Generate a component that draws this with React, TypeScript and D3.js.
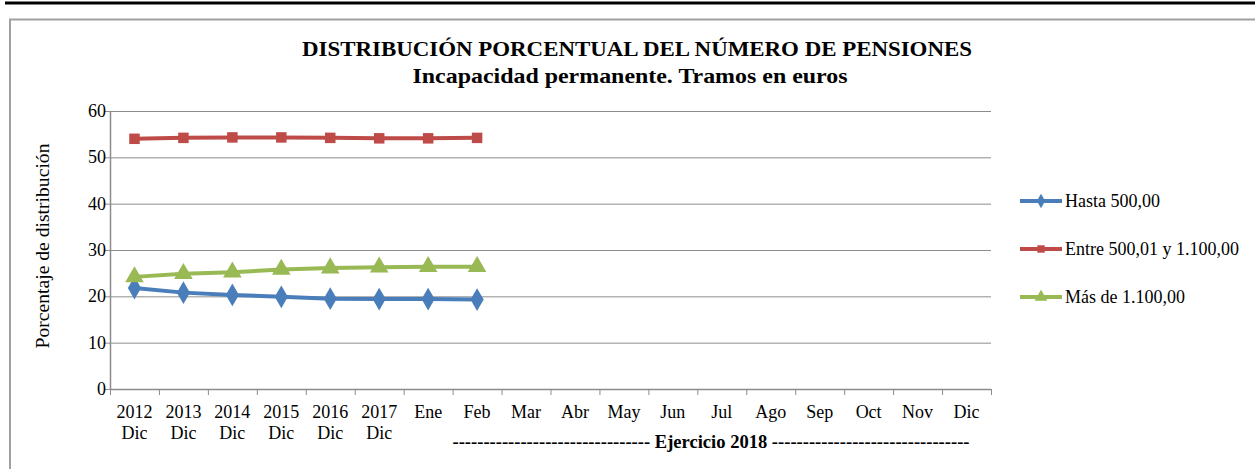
import { useEffect, useRef } from 'react';
import * as d3 from 'd3';

const categories = ['2012|Dic', '2013|Dic', '2014|Dic', '2015|Dic', '2016|Dic', '2017|Dic', 'Ene', 'Feb', 'Mar', 'Abr', 'May', 'Jun', 'Jul', 'Ago', 'Sep', 'Oct', 'Nov', 'Dic'];
const hasta500 = [21.8, 20.8, 20.3, 19.9, 19.5, 19.4, 19.4, 19.3];
const entre500y1100 = [54.0, 54.2, 54.3, 54.3, 54.2, 54.1, 54.1, 54.2];
const mas1100 = [24.2, 24.9, 25.2, 25.8, 26.1, 26.3, 26.4, 26.4];
const yTicks = [0, 10, 20, 30, 40, 50, 60];

const series = [
  { name: 'Hasta 500,00', values: hasta500, color: '#4a7ebb', symbol: d3.symbolDiamond, size: 150, legendSize: 60 },
  { name: 'Entre 500,01 y 1.100,00', values: entre500y1100, color: '#be4b48', symbol: d3.symbolSquare, size: 110, legendSize: 55 },
  { name: 'Más de 1.100,00', values: mas1100, color: '#98b954', symbol: d3.symbolTriangle, size: 150, legendSize: 70 },
];

const FONT = '"Liberation Serif", "Times New Roman", serif';

export default function App() {
  const svgRef = useRef<SVGSVGElement>(null);

  useEffect(() => {
    if (!svgRef.current) return;
    const W = 1255;
    const H = 469;
    const svg = d3.select(svgRef.current);
    svg.selectAll('*').remove();
    svg.attr('width', W).attr('height', H);

    // top rule and frame
    svg.append('rect').attr('x', 5).attr('y', 1.5).attr('width', W - 5).attr('height', 3).attr('fill', '#000');
    svg.append('path')
      .attr('d', `M10,${H} L10,19.5 L${W},19.5`)
      .attr('fill', 'none')
      .attr('stroke', '#a0a0a0')
      .attr('stroke-width', 2);

    // titles
    svg.append('text')
      .attr('x', 637).attr('y', 56)
      .attr('text-anchor', 'middle')
      .attr('font-family', FONT).attr('font-weight', 'bold').attr('font-size', 21)
      .attr('textLength', 670).attr('lengthAdjust', 'spacingAndGlyphs')
      .text('DISTRIBUCIÓN PORCENTUAL DEL NÚMERO DE PENSIONES');
    svg.append('text')
      .attr('x', 630).attr('y', 83)
      .attr('text-anchor', 'middle')
      .attr('font-family', FONT).attr('font-weight', 'bold').attr('font-size', 21)
      .attr('textLength', 435).attr('lengthAdjust', 'spacingAndGlyphs')
      .text('Incapacidad permanente. Tramos en euros');

    const left = 110;
    const right = 991;
    const top = 111;
    const bottom = 389;

    const x = d3.scaleBand().domain(categories).range([left, right]).padding(0);
    const y = d3.scaleLinear().domain([0, 60]).range([bottom, top]);

    // gridlines
    svg.append('g')
      .selectAll('line')
      .data(yTicks.filter((t) => t > 0))
      .join('line')
      .attr('x1', left).attr('x2', right)
      .attr('y1', (d) => y(d) + 0.5).attr('y2', (d) => y(d) + 0.5)
      .attr('stroke', '#8c8c8c').attr('stroke-width', 1);

    // y axis
    svg.append('line')
      .attr('x1', left + 0.5).attr('x2', left + 0.5)
      .attr('y1', top).attr('y2', bottom)
      .attr('stroke', '#8c8c8c').attr('stroke-width', 1.5);
    svg.append('g')
      .selectAll('line')
      .data(yTicks)
      .join('line')
      .attr('x1', left - 5).attr('x2', left)
      .attr('y1', (d) => y(d) + 0.5).attr('y2', (d) => y(d) + 0.5)
      .attr('stroke', '#8c8c8c');
    svg.append('g')
      .selectAll('text')
      .data(yTicks)
      .join('text')
      .attr('x', left - 4)
      .attr('y', (d) => y(d) + 6)
      .attr('text-anchor', 'end')
      .attr('font-family', FONT).attr('font-size', 18)
      .text((d) => d);

    // x axis
    svg.append('line')
      .attr('x1', left).attr('x2', right)
      .attr('y1', bottom + 0.5).attr('y2', bottom + 0.5)
      .attr('stroke', '#8c8c8c').attr('stroke-width', 1.5);
    const bounds = categories.map((c) => x(c)!).concat([right]);
    svg.append('g')
      .selectAll('line')
      .data(bounds)
      .join('line')
      .attr('x1', (d) => d + 0.5).attr('x2', (d) => d + 0.5)
      .attr('y1', bottom).attr('y2', bottom + 6)
      .attr('stroke', '#8c8c8c');

    const xl = svg.append('g')
      .selectAll('text')
      .data(categories)
      .join('text')
      .attr('text-anchor', 'middle')
      .attr('font-family', FONT).attr('font-size', 18);
    xl.each(function (d) {
      const parts = d.split('|');
      const t = d3.select(this);
      parts.forEach((p, i) => {
        t.append('tspan')
          .attr('x', x(d)! + x.bandwidth() / 2)
          .attr('y', 418 + i * 21)
          .text(p);
      });
    });

    svg.append('text')
      .attr('x', 711).attr('y', 448)
      .attr('text-anchor', 'middle')
      .attr('font-family', FONT).attr('font-weight', 'bold').attr('font-size', 18)
      .attr('textLength', 517).attr('lengthAdjust', 'spacingAndGlyphs')
      .text('-------------------------------- Ejercicio 2018 --------------------------------');

    // y label
    svg.append('text')
      .attr('transform', `translate(49,246) rotate(-90)`)
      .attr('text-anchor', 'middle')
      .attr('font-family', FONT).attr('font-size', 18)
      .attr('textLength', 205).attr('lengthAdjust', 'spacingAndGlyphs')
      .text('Porcentaje de distribución');

    // series
    const cx = (i: number) => x(categories[i])! + x.bandwidth() / 2;
    series.forEach((s) => {
      const line = d3.line<number>().x((_, i) => cx(i)).y((d) => y(d));
      svg.append('path')
        .datum(s.values)
        .attr('d', line)
        .attr('fill', 'none')
        .attr('stroke', s.color)
        .attr('stroke-width', 4)
        .attr('stroke-linejoin', 'round');
      svg.append('g')
        .selectAll('path')
        .data(s.values)
        .join('path')
        .attr('transform', (d, i) => `translate(${cx(i)},${y(d)})`)
        .attr('d', d3.symbol().type(s.symbol).size(s.size)())
        .attr('fill', s.color);
    });

    // legend
    const lg = svg.append('g');
    series.forEach((s, i) => {
      const ly = 201 + i * 48;
      lg.append('line')
        .attr('x1', 1020).attr('x2', 1062)
        .attr('y1', ly).attr('y2', ly)
        .attr('stroke', s.color).attr('stroke-width', 4);
      lg.append('path')
        .attr('transform', `translate(1041,${ly})`)
        .attr('d', d3.symbol().type(s.symbol).size(s.legendSize)())
        .attr('fill', s.color);
      lg.append('text')
        .attr('x', 1065).attr('y', ly + 6)
        .attr('font-family', FONT).attr('font-size', 18)
        .text(s.name);
    });
  }, []);

  return (
    <div style={{ position: 'absolute', left: 0, top: 0 }}>
      <svg ref={svgRef} style={{ display: 'block' }} />
    </div>
  );
}
